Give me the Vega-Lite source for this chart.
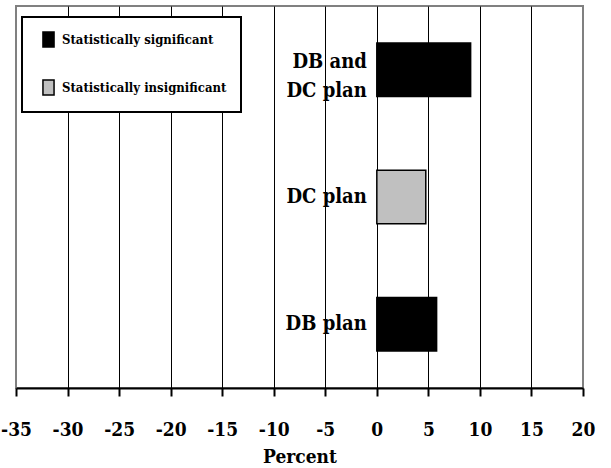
{
  "$schema": "https://vega.github.io/schema/vega-lite/v6.json",
  "width": 567,
  "height": 382,
  "autosize": {"type": "none"},
  "padding": {"left": 16, "top": 6, "right": 28, "bottom": 80},
  "background": "white",
  "config": {
    "view": {"stroke": "#808080", "strokeWidth": 2},
    "font": "DejaVu Serif Condensed"
  },
  "data": {
    "values": [
      {"cat": "DB and DC plan", "label": "DB and\nDC plan", "lines": 2, "value": 9.1, "sig": "Statistically significant"},
      {"cat": "DC plan", "label": "DC plan", "lines": 1, "value": 4.75, "sig": "Statistically insignificant"},
      {"cat": "DB plan", "label": "DB plan", "lines": 1, "value": 5.8, "sig": "Statistically significant"}
    ]
  },
  "encoding": {
    "y": {
      "field": "cat",
      "type": "nominal",
      "sort": ["DB and DC plan", "DC plan", "DB plan"],
      "scale": {"paddingInner": 0.58, "paddingOuter": 0.29},
      "axis": null
    }
  },
  "layer": [
    {
      "mark": {"type": "bar", "stroke": "black", "strokeWidth": 1.5},
      "encoding": {
        "x": {
          "field": "value",
          "type": "quantitative",
          "scale": {"domain": [-35, 20], "nice": false, "zero": false},
          "axis": {
            "values": [-35, -30, -25, -20, -15, -10, -5, 0, 5, 10, 15, 20],
            "labelExpr": "'' + datum.value",
            "labelFont": "DejaVu Serif Condensed",
            "labelFontSize": 19,
            "labelFontWeight": "bold",
            "labelColor": "black",
            "labelPadding": 24,
            "labelFlush": false,
            "domainColor": "black",
            "domainWidth": 2,
            "tickColor": "black",
            "tickWidth": 2,
            "tickSize": 8,
            "grid": true,
            "gridColor": "black",
            "gridWidth": 1,
            "gridOpacity": {"condition": {"test": "datum.value == -35 || datum.value == 20", "value": 0}, "value": 1},
            "title": "Percent",
            "titleFont": "DejaVu Serif Condensed",
            "titleFontSize": 19,
            "titleFontWeight": "bold",
            "titleColor": "black",
            "titlePadding": 8
          }
        },
        "x2": {"datum": 0},
        "fill": {
          "field": "sig",
          "type": "nominal",
          "scale": {
            "domain": ["Statistically significant", "Statistically insignificant"],
            "range": ["black", "#c0c0c0"]
          },
          "legend": {
            "title": null,
            "orient": "none",
            "legendX": 6,
            "legendY": 11,
            "strokeColor": "black",
            "fillColor": "white",
            "padding": 14,
            "rowPadding": 27,
            "symbolType": "M-0.74,-1H0.74V1H-0.74Z",
            "symbolSize": 225,
            "symbolStrokeColor": "black",
            "symbolStrokeWidth": 1.5,
            "symbolOffset": 4,
            "labelFont": "DejaVu Serif Condensed",
            "labelFontSize": 13,
            "labelFontWeight": "bold",
            "labelColor": "black",
            "labelOffset": 5,
            "labelLimit": 300,
            "labelExpr": "datum.label + '\u00a0\u00a0\u00a0\u00a0\u00a0\u00a0\u00a0\u00a0'",
            "encode": {"legend": {"update": {"strokeWidth": {"value": 2}}}}
          }
        }
      }
    },
    {
      "transform": [{"filter": "datum.lines == 2"}],
      "mark": {
        "type": "text",
        "align": "right",
        "baseline": "middle",
        "dx": -10,
        "dy": -8,
        "font": "DejaVu Serif Condensed",
        "fontSize": 20,
        "fontWeight": "bold",
        "lineHeight": 29,
        "lineBreak": "\n",
        "color": "black"
      },
      "encoding": {
        "x": {"datum": 0, "type": "quantitative"},
        "text": {"field": "label"}
      }
    },
    {
      "transform": [{"filter": "datum.lines == 1"}],
      "mark": {
        "type": "text",
        "align": "right",
        "baseline": "middle",
        "dx": -10,
        "font": "DejaVu Serif Condensed",
        "fontSize": 20,
        "fontWeight": "bold",
        "color": "black"
      },
      "encoding": {
        "x": {"datum": 0, "type": "quantitative"},
        "text": {"field": "label"}
      }
    }
  ]
}
